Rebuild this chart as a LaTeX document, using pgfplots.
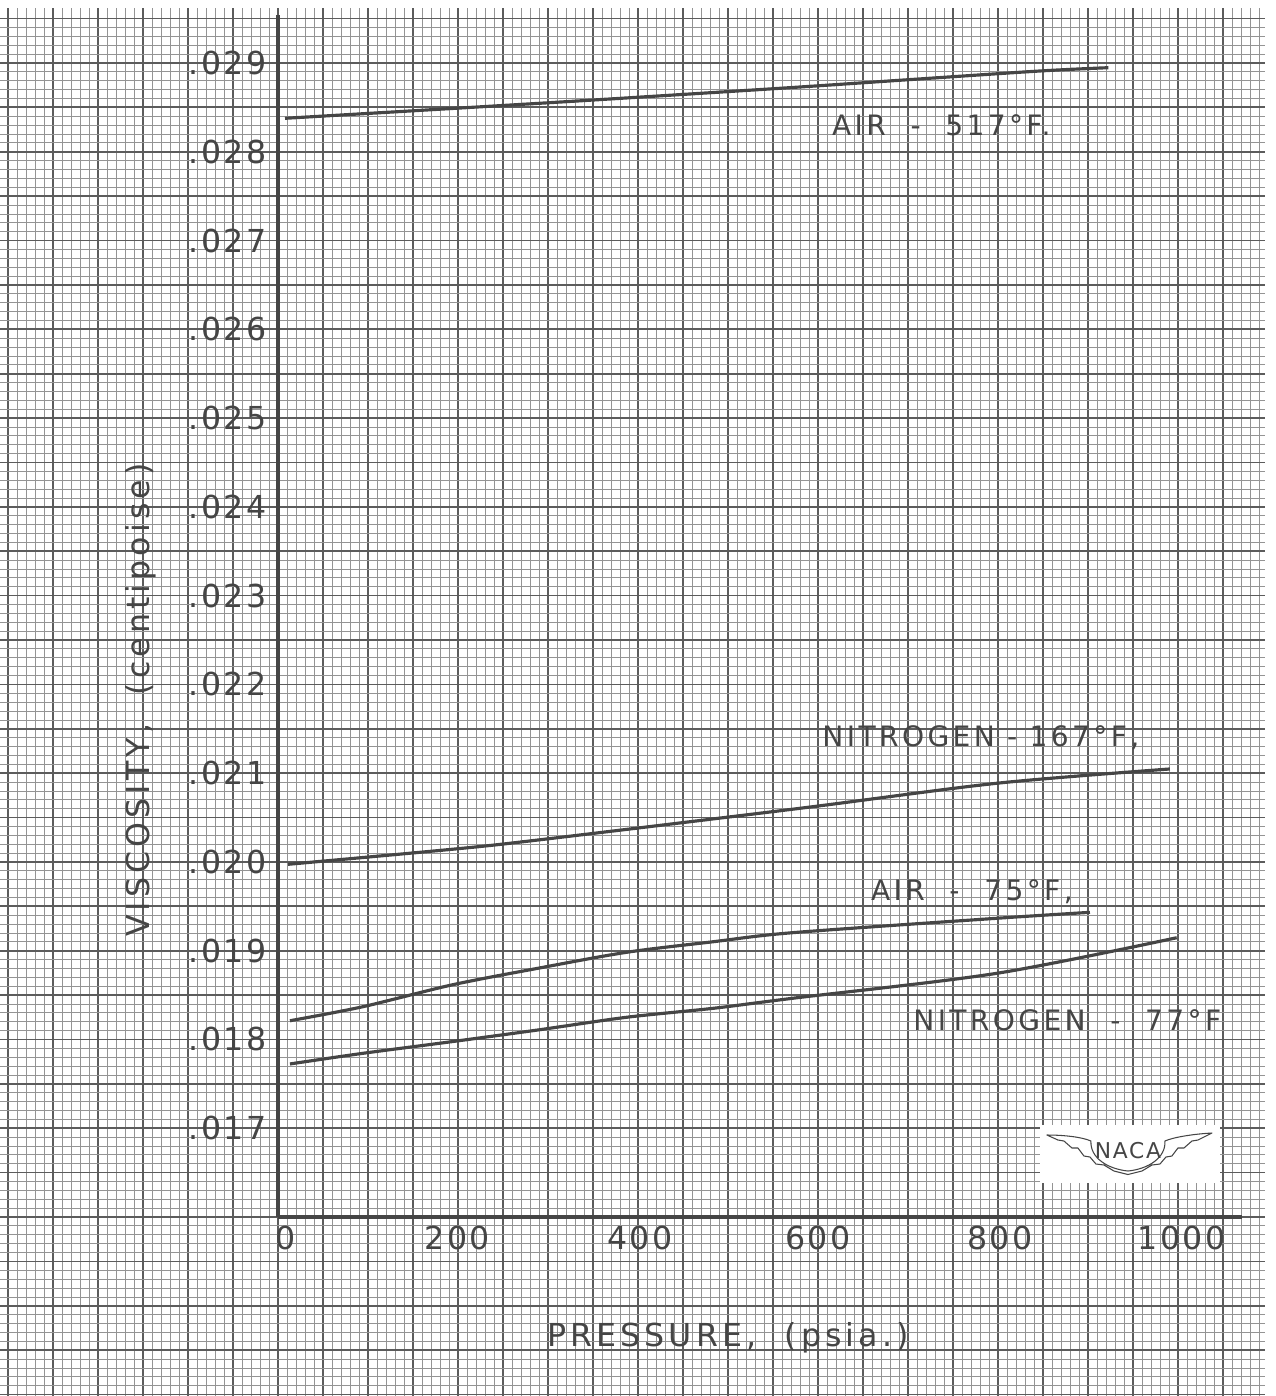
\documentclass[border=0pt]{standalone}
\usepackage{fontspec}
\setmainfont{DejaVu Sans}
\newfontfamily\lab[LetterSpace=8]{DejaVu Sans}
\newfontfamily\labt[LetterSpace=13]{DejaVu Sans}
\newfontfamily\labw[LetterSpace=12]{DejaVu Sans}
\usepackage{pgfplots}
\pgfplotsset{compat=1.18}
\definecolor{ink}{gray}{0.27}
\definecolor{heavy}{gray}{0.36}
\definecolor{fine}{gray}{0.58}
\tikzset{ylab/.style={anchor=east, text=ink, font=\fontsize{9}{10}\lab, inner sep=0pt},
         xlab/.style={text=ink, font=\fontsize{9}{10}\lab, inner sep=0pt},
         tlab/.style={text=ink, font=\fontsize{9}{10}\labt, inner sep=0pt},
         clab/.style={text=ink, font=\fontsize{8}{9}\labw, inner sep=0pt}}
\begin{document}
\begin{tikzpicture}
\begin{axis}[
  width=127.6mm, height=139.6mm, scale only axis,
  xmin=-308.9, xmax=1108.9, ymin=0.0139835, ymax=0.0297097,
  axis line style={draw=none},
  xtick={-300,-250,-200,-150,-100,-50,0,50,100,150,200,250,300,350,400,450,500,550,600,650,700,750,800,850,900,950,1000,1050,1100},
  ytick={0.014,0.0145,0.015,0.0155,0.016,0.0165,0.017,0.0175,0.018,0.0185,0.019,0.0195,0.020,0.0205,0.021,0.0215,0.022,0.0225,0.023,0.0235,0.024,0.0245,0.025,0.0255,0.026,0.0265,0.027,0.0275,0.028,0.0285,0.029,0.0295},
  minor tick num=4,
  xticklabels={}, yticklabels={},
  scaled y ticks=false, scaled x ticks=false,
  major tick length=0pt, minor tick length=0pt,
  tick style={draw=none},
  grid=both,
  major grid style={heavy, line width=0.5pt},
  minor grid style={fine, line width=0.22pt},
  clip=false,
]
% paper margins without grid
\fill[white] (axis cs:-308.9,0.0296195) rectangle (axis cs:1108.9,0.0297097);
\fill[white] (axis cs:1096.7,0.0139835) rectangle (axis cs:1108.9,0.0297097);
% axes
\draw[ink, line width=1.15pt] (axis cs:0,0.016) -- (axis cs:0,0.02954);
\draw[ink, line width=1.15pt] (axis cs:0,0.016) -- (axis cs:1070.8,0.016);

% AIR - 517 F
\addplot[smooth, ink, line width=0.9pt] coordinates {
 (7.8,0.028377) (302,0.028553) (557.8,0.028715) (694.8,0.028808) (846.7,0.02891) (922.6,0.028947)};
% NITROGEN - 167 F
\addplot[smooth, ink, line width=0.9pt] coordinates {
 (11.1,0.019973) (193,0.020142) (288.9,0.020247) (580,0.020604) (798.6,0.020886) (991,0.021047)};
% AIR - 75 F
\addplot[smooth, ink, line width=0.9pt] coordinates {
 (13.3,0.018211) (94.4,0.018369) (193,0.018614) (288.9,0.018802) (387.4,0.018982) (483.7,0.019101) (571.9,0.019203) (798.6,0.019365) (902.2,0.019432)};
% NITROGEN - 77 F
\addplot[smooth, ink, line width=0.9pt] coordinates {
 (13.3,0.017724) (94.4,0.017844) (193,0.017975) (288.9,0.018107) (387.4,0.01825) (483.7,0.018351) (571.9,0.018464) (798.6,0.018745) (998.6,0.019146)};

% y tick labels
\node[ylab] at (axis cs:-12,0.029) {.029};
\node[ylab] at (axis cs:-12,0.028) {.028};
\node[ylab] at (axis cs:-12,0.027) {.027};
\node[ylab] at (axis cs:-12,0.026) {.026};
\node[ylab] at (axis cs:-12,0.025) {.025};
\node[ylab] at (axis cs:-12,0.024) {.024};
\node[ylab] at (axis cs:-12,0.023) {.023};
\node[ylab] at (axis cs:-12,0.022) {.022};
\node[ylab] at (axis cs:-12,0.021) {.021};
\node[ylab] at (axis cs:-12,0.020) {.020};
\node[ylab] at (axis cs:-12,0.019) {.019};
\node[ylab] at (axis cs:-12,0.018) {.018};
\node[ylab] at (axis cs:-12,0.017) {.017};
% x tick labels
\node[xlab] at (axis cs:8,0.015763) {0};
\node[xlab] at (axis cs:199,0.015763) {200};
\node[xlab] at (axis cs:402,0.015763) {400};
\node[xlab] at (axis cs:600,0.015763) {600};
\node[xlab] at (axis cs:802,0.015763) {800};
\node[xlab] at (axis cs:1004,0.015763) {1000};
% axis titles
\node[tlab] at (axis cs:500,0.014637) {PRESSURE,\ \ (psia.)};
\node[tlab, rotate=90] at (axis cs:-153,0.021824) {VISCOSITY,\ \ (centipoise)};

% curve labels
\node[clab] at (axis cs:737,0.028302) {AIR\ \ -\ \ 517°F.};
\node[clab] at (axis cs:781,0.021396) {NITROGEN - 167°F,};
\node[clab] at (axis cs:771,0.019661) {AIR\ \ -\ \ 75°F,};
\node[clab] at (axis cs:877,0.018219) {NITROGEN\ \ -\ \ 77°F};

% NACA badge
\fill[white] (axis cs:846.7,0.016383) rectangle (axis cs:1046.7,0.017036);
\coordinate (naca) at (axis cs:944.4,0.016732);
\end{axis}
\begin{scope}[shift={(naca)}, x=1mm, y=1mm]
  \draw[ink, line width=0.3pt, line join=round]
    (-8.1,1.7) .. controls (-6.4,1.7) and (-4.6,1.5) .. (-3.7,1.1)
      .. controls (-3.8,-0.6) and (-2.0,-1.7) .. (0,-1.9)
      .. controls (2.0,-1.7) and (3.8,-0.6) .. (3.7,1.1)
      .. controls (4.6,1.5) and (6.6,1.8) .. (8.4,1.9)
      -- (7.0,1.2) -- (6.4,1.1) -- (5.6,0.4) -- (5.0,0.4) -- (4.4,-0.4) -- (3.8,-0.5) -- (3.2,-1.2) -- (2.4,-1.3) -- (1.4,-1.9) -- (0,-2.25)
      -- (-1.4,-1.9) -- (-2.4,-1.3) -- (-3.2,-1.2) -- (-3.8,-0.5) -- (-4.4,-0.4) -- (-5.0,0.4) -- (-5.6,0.4) -- (-6.4,1.1) -- (-7.0,1.2) -- cycle;
  \node[text=ink, font=\fontsize{6.2}{7}\lab, inner sep=0pt] at (0,0.1) {NACA};
\end{scope}
\pgfresetboundingbox
\path (current axis.south west) rectangle (current axis.north east);
\end{tikzpicture}
\end{document}
